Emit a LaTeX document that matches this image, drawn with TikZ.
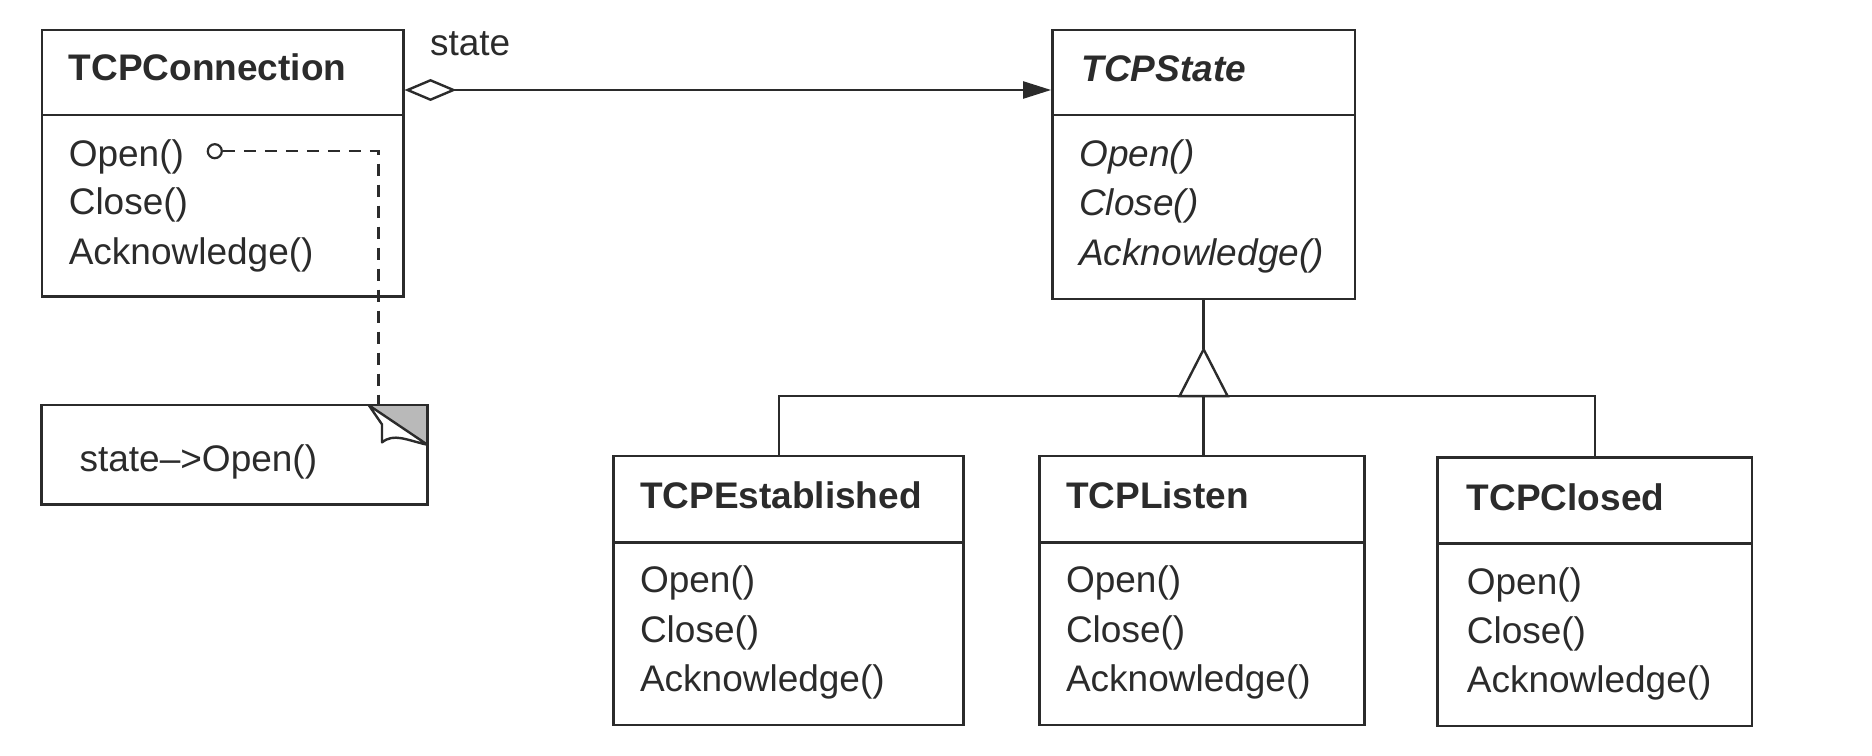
\documentclass[tikz,border=0pt]{standalone}
\usepackage{fontspec}
\setmainfont{Liberation Sans}
\usetikzlibrary{fit,arrows.meta,calc}
\definecolor{ink}{HTML}{2B2B2B}
\begin{document}
\begin{tikzpicture}[x=0.6pt,y=-0.6pt]
\tikzset{
 box/.style={draw=ink,line width=1.3pt,inner sep=0pt},
 ttl/.style={anchor=base west,inner sep=0pt,text=ink,font=\fontsize{18.5}{22}\selectfont\bfseries},
 opn/.style={anchor=base west,inner sep=0pt,text=ink,font=\fontsize{18.5}{22}\selectfont},
 ln/.style={draw=ink,line width=1.2pt},
 dsh/.style={draw=ink,line width=1.1pt,dash pattern=on 6pt off 4.5pt},
}
\useasboundingbox (0,0) rectangle (1560,630);

% TCPConnection
\node[box,fit={(35,25) (336,247)}] (conn) {};
\draw[ln] (35,96) -- (336,96);
\node[ttl] (connT) at (57,67) {TCPConnection};
\node[opn] (connO) at (57,139) {Open()};
\node[opn] (connC) at (57,179) {Close()};
\node[opn] (connA) at (57,220) {Acknowledge()};

% TCPState
\node[box,fit={(877,25) (1129,249)}] (state) {};
\draw[ln] (877,96) -- (1129,96);
\node[ttl,font=\fontsize{18.5}{22}\selectfont\bfseries\itshape] (stateT) at (901,68) {TCPState};
\node[opn,font=\fontsize{18.5}{22}\selectfont\itshape] (stateO) at (899,139) {Open()};
\node[opn,font=\fontsize{18.5}{22}\selectfont\itshape] (stateC) at (899,180) {Close()};
\node[opn,font=\fontsize{18.5}{22}\selectfont\itshape] (stateA) at (899,221) {Acknowledge()};

% TCPEstablished
\node[box,fit={(511,380) (803,604)}] (est) {};
\draw[ln] (511,452) -- (803,452);
\node[ttl] (estT) at (533,424) {TCPEstablished};
\node[opn] (estO) at (533,494) {Open()};
\node[opn] (estC) at (533,535) {Close()};
\node[opn] (estA) at (533,576) {Acknowledge()};

% TCPListen
\node[box,fit={(866,380) (1137,604)}] (listen) {};
\draw[ln] (866,452) -- (1137,452);
\node[ttl] (lisT) at (888,424) {TCPListen};
\node[opn] (lisO) at (888,494) {Open()};
\node[opn] (lisC) at (888,535) {Close()};
\node[opn] (lisA) at (888,576) {Acknowledge()};

% TCPClosed
\node[box,fit={(1198,381) (1460,605)}] (closed) {};
\draw[ln] (1198,453) -- (1460,453);
\node[ttl] (cloT) at (1222,425) {TCPClosed};
\node[opn] (cloO) at (1222,495) {Open()};
\node[opn] (cloC) at (1222,536) {Close()};
\node[opn] (cloA) at (1222,577) {Acknowledge()};

% aggregation
\coordinate (yagg) at (0,75);
\node[opn] (stlbl) at (358,46) {state};
\draw[ln,{Diamond[open,fill=white,length=26pt,width=11pt]}-{Triangle[length=14pt,width=8.5pt]}]
  (conn.east |- yagg) -- (state.west |- yagg);

% generalization
\coordinate (apex) at ($(state.south)+(0,41)$);
\coordinate (tb) at ($(apex)+(0,39)$);
\coordinate (edx) at (649,0);
\draw[ln] (state.south) -- (apex);
\draw[ln,line join=miter] (apex) -- ($(tb)+(-20,0)$) -- ($(tb)+(20,0)$) -- cycle;
\draw[ln] (edx |- est.north) |- (tb) -| (closed.north);
\draw[ln] (tb) -- (tb |- listen.north);

% note
\node[inner sep=0pt,fit={(35,338) (356,420)}] (note) {};
\coordinate (fa) at ($(note.north east)+(-49,0)$);
\coordinate (fb) at ($(note.north east)+(0,33)$);
\fill[gray!55] (fa) -- (note.north east) -- (fb) -- cycle;
\draw[ln,line join=miter] (note.north west) -- (note.north east) -- (note.south east) -- (note.south west) -- cycle;
\draw[ln,fill=white,line join=round] (fa) -- ++(11,16) -- ++(0,15) .. controls ++(10,-8) and ++(-18,-4) .. (fb) -- cycle;
\node[opn] (noteT) at (66,393) {state–>Open()};

% note link
\node[circle,draw=ink,line width=1.1pt,minimum size=7pt,inner sep=0pt] (pin) at (179,126) {};
\coordinate (nt) at ($(note.north east)+(-41,0)$);
\draw[dsh] (pin.east) -| (nt);
\end{tikzpicture}
\end{document}
